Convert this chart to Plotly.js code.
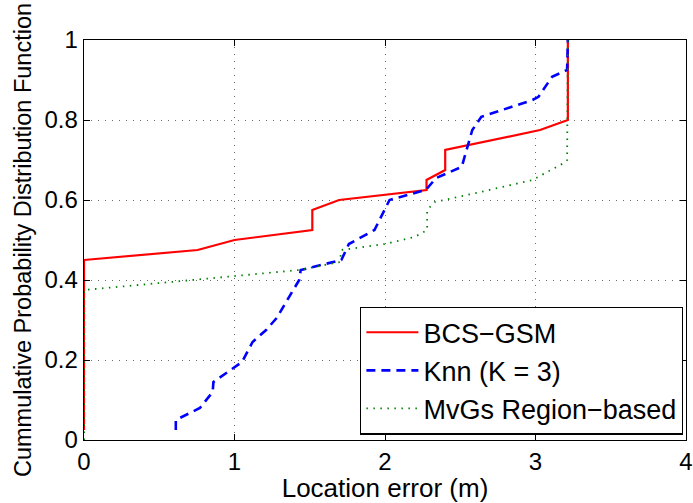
<!DOCTYPE html>
<html>
<head>
<meta charset="utf-8">
<script src="https://cdn.plot.ly/plotly-3.0.1.min.js"></script>
<style>html,body{margin:0;padding:0;background:#fff;}#chart{width:693px;height:503px;}</style>
</head>
<body>
<div id="chart"></div>
<script>
var bcsX = [0, 0, 0.755, 1.0, 1.517, 1.517, 1.695, 2.276, 2.276, 2.40, 2.40, 3.03, 3.215, 3.215];
var bcsY = [0.025, 0.45, 0.475, 0.5, 0.525, 0.575, 0.6, 0.625, 0.65, 0.675, 0.725, 0.775, 0.8, 1.0];

var knnX = [0.61, 0.61, 0.77, 0.855, 0.86, 0.99, 1.05, 1.12, 1.21, 1.28, 1.43, 1.44, 1.71, 1.76, 1.93, 2.03, 2.27, 2.34, 2.51, 2.58, 2.64, 2.98, 3.02, 3.11, 3.21, 3.215];
var knnY = [0.025, 0.05, 0.08, 0.12, 0.145, 0.18, 0.195, 0.245, 0.275, 0.305, 0.4, 0.425, 0.45, 0.49, 0.525, 0.6, 0.625, 0.655, 0.683, 0.775, 0.808, 0.85, 0.858, 0.908, 0.925, 1.0];

var mvgX = [0, 0, 0.72, 1.0, 1.43, 1.70, 1.71, 2.0, 2.2, 2.28, 2.28, 2.33, 2.6, 2.98, 3.2, 3.21, 3.215];
var mvgY = [0.0, 0.375, 0.4, 0.41, 0.425, 0.445, 0.475, 0.49, 0.508, 0.525, 0.575, 0.595, 0.617, 0.65, 0.695, 0.7, 1.0];

var seriesNames = ['BCS\u2212GSM', 'Knn (K = 3)', 'MvGs Region\u2212based'];
var xTicks = [0, 1, 2, 3, 4];
var yTicks = [0, 0.2, 0.4, 0.6, 0.8, 1];
var yTickText = ['0', '0.2', '0.4', '0.6', '0.8', '1'];

var font = 'Liberation Sans, Arial, Helvetica, sans-serif';

var traces = [
  {x: bcsX, y: bcsY, name: seriesNames[0], mode: 'lines', line: {color: 'rgb(255,0,0)', width: 2.2}},
  {x: knnX, y: knnY, name: seriesNames[1], mode: 'lines', line: {color: 'rgb(0,0,255)', width: 2.6, dash: '9px,6px'}},
  {x: mvgX, y: mvgY, name: seriesNames[2], mode: 'lines', line: {color: 'rgb(0,128,0)', width: 1.8, dash: '1.5px,5.5px'}}
];

var axisCommon = {
  showline: true, linecolor: '#000', linewidth: 1.4, mirror: 'ticks',
  ticks: 'inside', ticklen: 6, tickcolor: '#000', tickwidth: 1,
  showgrid: true, gridcolor: 'rgba(80,80,80,0.85)', gridwidth: 1, griddash: '1px,6px',
  zeroline: false, tickfont: {family: font, size: 24, color: '#000'}
};

var layout = {
  width: 693, height: 503,
  margin: {l: 84, r: 7, t: 40, b: 63},
  paper_bgcolor: '#fff', plot_bgcolor: '#fff',
  showlegend: true,
  xaxis: Object.assign({}, axisCommon, {
    range: [0, 4], tickvals: xTicks, ticktext: xTicks.map(String),
    title: {text: 'Location error (m)', font: {family: font, size: 26, color: '#000'}, standoff: 0}
  }),
  yaxis: Object.assign({}, axisCommon, {
    range: [0, 1], tickvals: yTicks, ticktext: yTickText,
    title: {text: 'Cummulative Probability Distribution Function', font: {family: font, size: 23.5, color: '#000'}, standoff: 6}
  }),
  legend: {
    x: 0.995, xanchor: 'right', y: 0.013, yanchor: 'bottom',
    bgcolor: '#fff', bordercolor: '#000', borderwidth: 1.4,
    font: {family: font, size: 27, color: '#000'},
    itemwidth: 52,
    tracegroupgap: 0
  }
};

Plotly.newPlot('chart', traces, layout, {displayModeBar: false, staticPlot: true});
</script>
</body>
</html>
